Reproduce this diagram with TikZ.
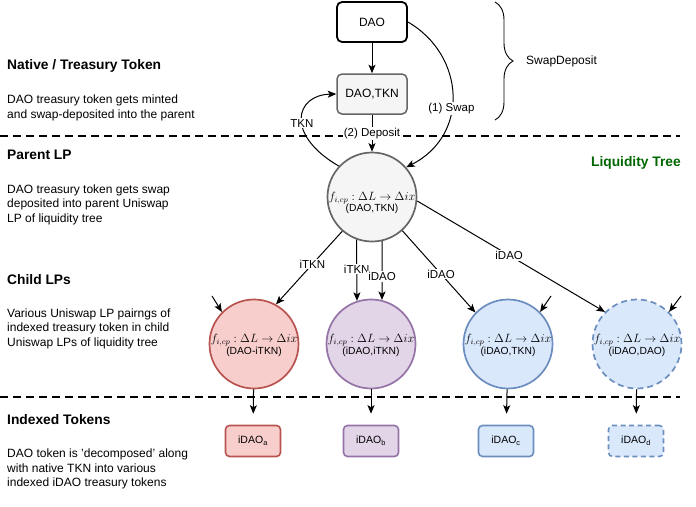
\documentclass[tikz,border=0pt]{standalone}
\usepackage{fontspec}
\setmainfont{Liberation Sans}
\usetikzlibrary{arrows.meta,decorations.pathreplacing}

\definecolor{redfill}{HTML}{F8CECC}
\definecolor{redline}{HTML}{B85450}
\definecolor{purfill}{HTML}{E1D5E7}
\definecolor{purline}{HTML}{9673A6}
\definecolor{bluefill}{HTML}{DAE8FC}
\definecolor{blueline}{HTML}{6C8EBF}
\definecolor{grayfill}{HTML}{F5F5F5}
\definecolor{grayline}{HTML}{666666}
\definecolor{treegreen}{HTML}{006600}

\tikzset{
  arr/.style={-{Stealth[length=8.5pt,width=7pt,inset=2pt]}},
  conn/.style={line width=1pt, black},
  sep/.style={line width=1.8pt, dash pattern=on 8pt off 5pt},
  daobox/.style={draw=black, line width=1.8pt, fill=white, rounded corners=5pt,
    minimum width=70pt, minimum height=40pt, font=\fontsize{12}{14}\selectfont},
  pairbox/.style={draw=grayline, line width=1.5pt, fill=grayfill, rounded corners=5pt,
    minimum width=70pt, minimum height=40pt, font=\fontsize{12}{14}\selectfont},
  lp/.style={circle, line width=1.7pt, minimum size=89pt, inner sep=0pt},
  tok/.style={rounded corners=4pt, line width=1.6pt, minimum width=55pt,
    minimum height=31pt, font=\fontsize{10.5}{12}\selectfont},
  fml/.style={inner sep=0pt, font=\fontsize{12}{14}\selectfont},
  pairlbl/.style={inner sep=0pt, font=\fontsize{10.3}{12}\selectfont},
  elabel/.style={fill=white, inner sep=1pt, font=\fontsize{11.5}{13}\selectfont},
  head/.style={anchor=base west, inner sep=0pt, font=\bfseries\fontsize{13.8}{16}\selectfont},
  body/.style={anchor=north west, inner sep=0pt, align=left, font=\fontsize{12}{14.5}\selectfont},
}

\begin{document}
\begin{tikzpicture}[x=1pt,y=-1pt]
\useasboundingbox (0,0) rectangle (696,506);

% section separators
\draw[sep] (0,136) -- (680,136);
\draw[sep] (0,397) -- (680,397);

% section captions
\node[head] (h1) at (7,69) {Native / Treasury Token};
\node[body] (b1) at (7,94.8) {DAO treasury token gets minted\\and swap-deposited into the parent};
\node[head] (h2) at (7,159.3) {Parent LP};
\node[body] (b2) at (7,184.6) {DAO treasury token gets swap\\deposited into parent Uniswap\\LP of liquidity tree};
\node[head] (h3) at (7,284) {Child LPs};
\node[body] (b3) at (7,308.6) {Various Uniswap LP pairngs of\\indexed treasury token in child\\Uniswap LPs of liquidity tree};
\node[head] (h4) at (7,424) {Indexed Tokens};
\node[body] (b4) at (7,448.6) {DAO token is 'decomposed' along\\with native TKN into various\\indexed iDAO treasury tokens};

\node[anchor=base east, inner sep=0pt, text=treegreen, font=\bfseries\fontsize{13.8}{16}\selectfont]
  (tree) at (681,166) {Liquidity Tree};

% minting and swap-deposit
\node[daobox] (dao) at (372,22) {DAO};
\node[pairbox] (pair) at (372,94) {DAO,TKN};

\draw[decorate, decoration={brace, amplitude=18pt}, line width=0.9pt]
  (495,2) coordinate (bt) -- (495,120) coordinate (bb);
\node[anchor=west, inner sep=0pt, font=\fontsize{12}{14}\selectfont] (sd) at (526,61) {SwapDeposit};

% liquidity pools
\node[lp, draw=grayline, fill=grayfill] (parent) at (372,197) {};
\node[lp, draw=redline, fill=redfill] (lpa) at (254,344) {};
\node[lp, draw=purline, fill=purfill] (lpb) at (371,344) {};
\node[lp, draw=blueline, fill=bluefill] (lpc) at (508,344) {};
\node[lp, draw=blueline, fill=bluefill, dashed, dash pattern=on 6pt off 4pt] (lpd) at (637,344) {};

\node[fml] (fp) at (372,198) {$f_{i,cp}:\Delta L\to\Delta ix$};
\node[pairlbl] (pp) at (372,209) {(DAO,TKN)};
\node[fml] (fa) at (254,340) {$f_{i,cp}:\Delta L\to\Delta ix$};
\node[pairlbl] (pa) at (254,352) {(DAO-iTKN)};
\node[fml] (fb) at (371,340) {$f_{i,cp}:\Delta L\to\Delta ix$};
\node[pairlbl] (pb) at (371,352) {(iDAO,iTKN)};
\node[fml] (fc) at (508,340) {$f_{i,cp}:\Delta L\to\Delta ix$};
\node[pairlbl] (pc) at (508,352) {(iDAO,TKN)};
\node[fml] (fd) at (637,340) {$f_{i,cp}:\Delta L\to\Delta ix$};
\node[pairlbl] (pd) at (637,352) {(iDAO,DAO)};

% indexed tokens
\node[tok, draw=redline, fill=redfill] (ta) at (253,441) {iDAO\textsubscript{a}};
\node[tok, draw=purline, fill=purfill] (tb) at (371,441) {iDAO\textsubscript{b}};
\node[tok, draw=blueline, fill=bluefill] (tc) at (506,441) {iDAO\textsubscript{c}};
\node[tok, draw=blueline, fill=bluefill, dashed, dash pattern=on 5pt off 3.5pt] (td) at (636,441) {iDAO\textsubscript{d}};

% flows into the parent pool
\draw[conn, arr] (dao) -- (pair);
\draw[conn, arr] (pair) -- node[elabel] {(2) Deposit} (parent);
\draw[conn, arr] (dao.east) .. controls (465,55) and (470,135) .. node[elabel, pos=0.58] {(1) Swap} (parent.41);
\draw[conn, arr] (parent.137) .. controls (285,135) and (295,95) .. node[elabel, pos=0.45] {TKN} (pair.west);

% parent to child pools
\draw[conn, arr] (parent.-131) -- node[elabel, pos=0.45] {iTKN} (lpa.61);
\draw[conn, arr] (parent.-110) -- node[elabel, pos=0.48] {iTKN} (lpb.108);
\draw[conn, arr] (parent.-77) -- node[elabel, pos=0.6] {iDAO} (lpb.76);
\draw[conn, arr] (parent.-48) -- node[elabel, pos=0.53] {iDAO} (lpc.136);
\draw[conn, arr] (parent.-5) -- node[elabel, pos=0.49] {iDAO} (lpd.135);

% external inflows
\coordinate (ina) at (212,296);
\coordinate (inc) at (551,296);
\coordinate (ind) at (681,296);
\draw[conn, arr] (ina) -- (lpa.135);
\draw[conn, arr] (inc) -- (lpc.45);
\draw[conn, arr] (ind) -- (lpd.45);

% child pools to indexed tokens
\draw[conn, arr, shorten >=11pt] (lpa) -- (ta);
\draw[conn, arr, shorten >=11pt] (lpb) -- (tb);
\draw[conn, arr, shorten >=11pt] (lpc) -- (tc);
\draw[conn, arr, shorten >=11pt] (lpd) -- (td);
\end{tikzpicture}
\end{document}
